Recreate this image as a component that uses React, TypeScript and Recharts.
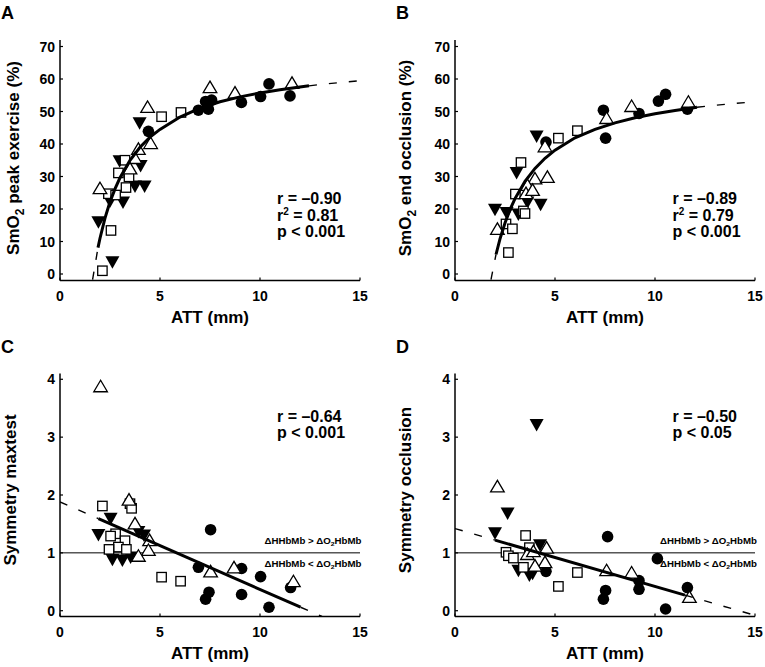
import React from 'react';
import { ComposedChart, Scatter, XAxis, YAxis, ReferenceLine } from 'recharts';

type P = { x: number; y: number };

const FONT = "'Liberation Sans', Arial, Helvetica, sans-serif";

const xTicks = [0, 5, 10, 15];
const smo2Ticks = [0, 10, 20, 30, 40, 50, 60, 70];
const symTicks = [0, 1, 2, 3, 4];

// ---------- Panel A: SmO2 peak exercise ----------
const aCircles: P[] = [
  { x: 7.28, y: 53.1 }, { x: 7.58, y: 53.5 }, { x: 7.42, y: 50.7 }, { x: 6.92, y: 50.4 },
  { x: 4.42, y: 43.9 }, { x: 9.07, y: 52.8 }, { x: 10.03, y: 54.6 }, { x: 10.45, y: 58.5 },
  { x: 11.5, y: 54.8 },
];
const aDowns: P[] = [
  { x: 3.98, y: 46.4 }, { x: 2.98, y: 34.7 }, { x: 4.03, y: 33.2 }, { x: 3.75, y: 26.9 },
  { x: 4.23, y: 26.9 }, { x: 2.5, y: 22.3 }, { x: 3.15, y: 22.0 }, { x: 1.92, y: 15.9 },
  { x: 2.62, y: 3.6 },
];
const aSquares: P[] = [
  { x: 5.08, y: 48.4 }, { x: 6.05, y: 49.7 }, { x: 3.25, y: 35.0 }, { x: 2.92, y: 31.1 },
  { x: 3.45, y: 29.9 }, { x: 3.3, y: 26.6 }, { x: 2.42, y: 24.7 }, { x: 2.78, y: 24.3 },
  { x: 2.55, y: 13.4 }, { x: 2.12, y: 1.0 },
];
const aUps: P[] = [
  { x: 7.5, y: 57.5 }, { x: 4.38, y: 51.4 }, { x: 4.53, y: 40.3 }, { x: 3.92, y: 38.5 },
  { x: 3.75, y: 35.7 }, { x: 3.5, y: 32.5 }, { x: 2.0, y: 26.4 }, { x: 8.75, y: 55.8 },
  { x: 11.6, y: 58.8 },
];
const aFitLow: P[] = [{ x: 1.63, y: -1.7 }, { x: 1.9, y: 8.1 }];
const aFitSolid: P[] = [
  { x: 1.9, y: 8.1 }, { x: 2.0, y: 11.0 }, { x: 2.25, y: 17.2 }, { x: 2.5, y: 22.2 },
  { x: 2.75, y: 26.2 }, { x: 3.0, y: 29.6 }, { x: 3.5, y: 35.0 }, { x: 4.0, y: 39.0 },
  { x: 4.5, y: 42.1 }, { x: 5.0, y: 44.5 }, { x: 6.0, y: 48.3 }, { x: 7.0, y: 51.0 },
  { x: 8.0, y: 53.0 }, { x: 9.0, y: 54.5 }, { x: 10.0, y: 55.7 }, { x: 11.0, y: 56.7 },
  { x: 12.45, y: 57.9 },
];
const aFitHigh: P[] = [{ x: 12.45, y: 57.9 }, { x: 13, y: 58.3 }, { x: 14, y: 58.9 }, { x: 15, y: 59.5 }];

// ---------- Panel B: SmO2 end occlusion ----------
const bCircles: P[] = [
  { x: 7.42, y: 50.4 }, { x: 7.53, y: 41.8 }, { x: 4.55, y: 40.6 }, { x: 9.2, y: 49.4 },
  { x: 10.17, y: 53.2 }, { x: 10.53, y: 55.3 }, { x: 11.62, y: 50.7 },
];
const bDowns: P[] = [
  { x: 4.08, y: 42.3 }, { x: 3.08, y: 31.1 }, { x: 3.62, y: 22.0 }, { x: 4.28, y: 21.3 },
  { x: 2.0, y: 19.8 }, { x: 2.58, y: 18.8 }, { x: 3.17, y: 18.3 },
];
const bSquares: P[] = [
  { x: 6.12, y: 44.1 }, { x: 5.17, y: 41.8 }, { x: 3.3, y: 34.3 }, { x: 3.02, y: 24.6 },
  { x: 3.42, y: 19.4 }, { x: 3.5, y: 18.6 }, { x: 2.55, y: 15.4 }, { x: 2.87, y: 13.9 },
  { x: 2.67, y: 6.6 },
];
const bUps: P[] = [
  { x: 7.58, y: 48.0 }, { x: 4.5, y: 39.3 }, { x: 4.0, y: 29.4 }, { x: 4.62, y: 29.9 },
  { x: 3.62, y: 27.4 }, { x: 3.55, y: 24.9 }, { x: 3.88, y: 25.9 }, { x: 2.12, y: 13.9 },
  { x: 8.83, y: 51.7 }, { x: 11.67, y: 53.0 },
];
const bFitLow: P[] = [{ x: 1.8, y: -1.7 }, { x: 2.05, y: 6.0 }];
const bFitSolid: P[] = [
  { x: 2.05, y: 6.0 }, { x: 2.25, y: 10.8 }, { x: 2.5, y: 15.7 }, { x: 2.75, y: 19.8 },
  { x: 3.0, y: 23.2 }, { x: 3.5, y: 28.5 }, { x: 4.0, y: 32.5 }, { x: 4.5, y: 35.6 },
  { x: 5.0, y: 38.1 }, { x: 6.0, y: 41.9 }, { x: 7.0, y: 44.5 }, { x: 8.0, y: 46.5 },
  { x: 9.0, y: 48.1 }, { x: 10.0, y: 49.3 }, { x: 11.0, y: 50.3 }, { x: 12.1, y: 51.3 },
];
const bFitHigh: P[] = [{ x: 12.1, y: 51.3 }, { x: 13, y: 51.9 }, { x: 14, y: 52.5 }, { x: 15, y: 53.0 }];

// ---------- Panel C: Symmetry maxtest ----------
const cCircles: P[] = [
  { x: 6.92, y: 0.75 }, { x: 7.53, y: 1.4 }, { x: 7.45, y: 0.32 }, { x: 7.28, y: 0.2 },
  { x: 9.08, y: 0.73 }, { x: 10.03, y: 0.59 }, { x: 9.08, y: 0.28 }, { x: 10.45, y: 0.06 },
  { x: 11.53, y: 0.4 },
];
const cDowns: P[] = [
  { x: 2.53, y: 1.59 }, { x: 1.92, y: 1.31 }, { x: 3.92, y: 1.36 }, { x: 4.2, y: 1.3 },
  { x: 2.62, y: 0.88 }, { x: 3.12, y: 0.87 }, { x: 3.53, y: 0.92 },
];
const cSquares: P[] = [
  { x: 2.12, y: 1.81 }, { x: 3.5, y: 1.85 }, { x: 3.58, y: 1.77 }, { x: 2.78, y: 1.33 },
  { x: 2.53, y: 1.29 }, { x: 3.25, y: 1.21 }, { x: 2.92, y: 1.1 }, { x: 3.32, y: 1.06 },
  { x: 2.45, y: 1.06 }, { x: 5.08, y: 0.58 }, { x: 6.03, y: 0.51 },
];
const cUps: P[] = [
  { x: 2.03, y: 3.88 }, { x: 3.45, y: 1.92 }, { x: 3.75, y: 1.51 }, { x: 4.48, y: 1.22 },
  { x: 4.42, y: 1.05 }, { x: 3.92, y: 0.95 }, { x: 7.53, y: 0.68 }, { x: 8.7, y: 0.75 },
  { x: 11.67, y: 0.51 },
];
const cFitLow: P[] = [{ x: 0, y: 1.88 }, { x: 1.92, y: 1.59 }];
const cFitSolid: P[] = [{ x: 1.92, y: 1.59 }, { x: 12.03, y: 0.06 }];
const cFitHigh: P[] = [{ x: 12.03, y: 0.06 }, { x: 13.1, y: -0.1 }];

// ---------- Panel D: Symmetry occlusion ----------
const dCircles: P[] = [
  { x: 4.55, y: 0.68 }, { x: 7.63, y: 1.28 }, { x: 7.53, y: 0.35 }, { x: 7.42, y: 0.2 },
  { x: 9.2, y: 0.52 }, { x: 9.2, y: 0.37 }, { x: 10.12, y: 0.9 }, { x: 10.53, y: 0.03 },
  { x: 11.62, y: 0.4 },
];
const dDowns: P[] = [
  { x: 4.08, y: 3.21 }, { x: 2.63, y: 1.68 }, { x: 2.0, y: 1.34 }, { x: 4.25, y: 1.13 },
  { x: 3.17, y: 0.69 }, { x: 3.72, y: 0.61 }, { x: 3.88, y: 0.64 },
];
const dSquares: P[] = [
  { x: 3.53, y: 1.3 }, { x: 3.72, y: 1.09 }, { x: 2.55, y: 1.01 }, { x: 2.67, y: 0.95 },
  { x: 2.92, y: 0.91 }, { x: 3.42, y: 0.75 }, { x: 5.17, y: 0.42 }, { x: 6.12, y: 0.66 },
];
const dUps: P[] = [
  { x: 2.12, y: 2.15 }, { x: 4.58, y: 1.09 }, { x: 3.62, y: 0.98 }, { x: 3.92, y: 1.03 },
  { x: 4.5, y: 0.84 }, { x: 4.0, y: 0.78 }, { x: 7.58, y: 0.7 }, { x: 8.83, y: 0.66 },
  { x: 11.72, y: 0.24 },
];
const dFitLow: P[] = [{ x: 0, y: 1.42 }, { x: 2.0, y: 1.22 }];
const dFitSolid: P[] = [{ x: 2.0, y: 1.22 }, { x: 11.5, y: 0.27 }];
const dFitHigh: P[] = [{ x: 11.5, y: 0.27 }, { x: 15, y: -0.08 }];

// ---------- shapes ----------
const CircleShape = (p: any) => <circle cx={p.cx} cy={p.cy} r={5.8} fill="#000" />;
const SquareShape = (p: any) => (
  <rect x={p.cx - 4.7} y={p.cy - 4.7} width={9.4} height={9.4} fill="#fff" stroke="#000" strokeWidth={1.3} />
);
const UpTriShape = (p: any) => (
  <polygon
    points={`${p.cx},${p.cy - 6} ${p.cx - 6.8},${p.cy + 5.5} ${p.cx + 6.8},${p.cy + 5.5}`}
    fill="#fff" stroke="#000" strokeWidth={1.3} strokeLinejoin="miter"
  />
);
const DownTriShape = (p: any) => (
  <polygon
    points={`${p.cx - 7},${p.cy - 6} ${p.cx + 7},${p.cy - 6} ${p.cx},${p.cy + 6.5}`}
    fill="#000"
  />
);
const NoShape = () => <g />;

const XTick = (p: any) => (
  <g>
    <line x1={p.x} x2={p.x} y1={p.y} y2={p.y - 3} stroke="#000" strokeWidth={1.2} />
    <text x={p.x} y={p.y + 20} textAnchor="middle" fontSize={14} fontWeight="bold" fontFamily={FONT} fill="#000">
      {p.payload.value}
    </text>
  </g>
);
const YTick = (p: any) => (
  <g>
    <line x1={p.x} x2={p.x + 3} y1={p.y} y2={p.y} stroke="#000" strokeWidth={1.2} />
    <text x={p.x - 5} y={p.y} dy="0.36em" textAnchor="end" fontSize={14} fontWeight="bold" fontFamily={FONT} fill="#000">
      {p.payload.value}
    </text>
  </g>
);

type PanelProps = {
  left: number; top: number; marginTop: number;
  yDomain: [number, number]; yTicks: number[];
  circles: P[]; downs: P[]; squares: P[]; ups: P[];
  fitLow: P[]; fitSolid: P[]; fitHigh: P[];
  refY?: number;
};

const dashed = { stroke: '#000', strokeWidth: 1.4, strokeDasharray: '8 12' };
const solid = { stroke: '#000', strokeWidth: 3 };

function Panel(props: PanelProps) {
  const { left, top, marginTop, yDomain, yTicks, circles, downs, squares, ups, fitLow, fitSolid, fitHigh, refY } = props;
  return (
    <div style={{ position: 'absolute', left, top }}>
      <ComposedChart width={380} height={330} margin={{ top: marginTop, right: 20, left: 0, bottom: 0 }}>
        <XAxis
          type="number" dataKey="x" domain={[0, 15]} ticks={xTicks} interval={0} allowDataOverflow
          tickSize={0} tickMargin={0} tickLine={false} tick={(p: any) => <XTick {...p} />}
          axisLine={{ stroke: '#000', strokeWidth: 1.5 }} height={49.5}
        />
        <YAxis
          type="number" dataKey="y" domain={yDomain} ticks={yTicks} interval={0} allowDataOverflow
          tickSize={0} tickMargin={0} tickLine={false} tick={(p: any) => <YTick {...p} />}
          axisLine={{ stroke: '#000', strokeWidth: 1.5 }} width={60}
        />
        {refY !== undefined && <ReferenceLine y={refY} stroke="#000" strokeWidth={1} />}
        <Scatter data={circles} shape={CircleShape} isAnimationActive={false} />
        <Scatter data={downs} shape={DownTriShape} isAnimationActive={false} />
        <Scatter data={squares} shape={SquareShape} isAnimationActive={false} />
        <Scatter data={ups} shape={UpTriShape} isAnimationActive={false} />
        <Scatter data={fitLow} shape={NoShape} line={dashed} isAnimationActive={false} />
        <Scatter data={fitSolid} shape={NoShape} line={solid} isAnimationActive={false} />
        <Scatter data={fitHigh} shape={NoShape} line={dashed} isAnimationActive={false} />
      </ComposedChart>
    </div>
  );
}

const T = { fontFamily: FONT, fontWeight: 'bold' as const, fill: '#000' };

function Overlay() {
  const stat = (x: number, y0: number, r: string, r2: string | null, p: string) => (
    <g>
      <text x={x} y={y0} fontSize={16} {...T}>r = {r}</text>
      {r2 !== null && (
        <text x={x} y={y0 + 17} fontSize={16} {...T}>
          r<tspan dy={-5.5} fontSize={10}>2</tspan><tspan dy={5.5}> = {r2}</tspan>
        </text>
      )}
      <text x={x} y={r2 !== null ? y0 + 33.5 : y0 + 16.5} fontSize={16} {...T}>p &lt; {p}</text>
    </g>
  );
  const note = (xr: number) => (
    <g>
      <text x={xr} y={544.3} textAnchor="end" fontSize={8.5} textLength={97} lengthAdjust="spacingAndGlyphs" {...T}>
        ΔHHbMb &gt; ΔO<tspan dy={2} fontSize={6}>2</tspan><tspan dy={-2}>HbMb</tspan>
      </text>
      <text x={xr} y={566.7} textAnchor="end" fontSize={8.5} textLength={97} lengthAdjust="spacingAndGlyphs" {...T}>
        ΔHHbMb &lt; ΔO<tspan dy={2} fontSize={6}>2</tspan><tspan dy={-2}>HbMb</tspan>
      </text>
    </g>
  );
  const ytitle = (x: number, y: number, main: string, sub: string | null, rest: string) => (
    <text x={x} y={y} transform={`rotate(-90 ${x} ${y})`} textAnchor="middle" fontSize={17} {...T}>
      {main}
      {sub !== null && <tspan dy={5} fontSize={12}>{sub}</tspan>}
      {sub !== null ? <tspan dy={-5}>{rest}</tspan> : null}
    </text>
  );
  return (
    <svg width={765} height={667} style={{ position: 'absolute', left: 0, top: 0, pointerEvents: 'none' }}>
      <text x={1} y={18.5} fontSize={18} {...T}>A</text>
      <text x={396} y={18.5} fontSize={18} {...T}>B</text>
      <text x={1} y={352.5} fontSize={18} {...T}>C</text>
      <text x={396} y={352.5} fontSize={18} {...T}>D</text>

      {ytitle(18.5, 158, 'SmO', '2', ' peak exercise (%)')}
      {ytitle(411, 158, 'SmO', '2', ' end occlusion (%)')}
      {ytitle(16, 490, 'Symmetry maxtest', null, '')}
      {ytitle(411, 490, 'Symmetry occlusion', null, '')}

      <text x={210} y={322.5} textAnchor="middle" fontSize={17} {...T}>ATT (mm)</text>
      <text x={605} y={322.5} textAnchor="middle" fontSize={17} {...T}>ATT (mm)</text>
      <text x={210} y={658.5} textAnchor="middle" fontSize={17} {...T}>ATT (mm)</text>
      <text x={605} y={658.5} textAnchor="middle" fontSize={17} {...T}>ATT (mm)</text>

      {stat(277, 203.5, '–0.90', '0.81', '0.001')}
      {stat(672.5, 203.5, '–0.89', '0.79', '0.001')}
      {stat(277, 421.5, '–0.64', null, '0.001')}
      {stat(672.5, 421.5, '–0.50', null, '0.05')}

      {note(361.5)}
      {note(757)}
    </svg>
  );
}

export default function App() {
  return (
    <div style={{ position: 'absolute', left: 0, top: 0, width: 765, height: 667, background: '#fff' }}>
      <Panel left={0} top={0} marginTop={40} yDomain={[-2, 72]} yTicks={smo2Ticks}
        circles={aCircles} downs={aDowns} squares={aSquares} ups={aUps}
        fitLow={aFitLow} fitSolid={aFitSolid} fitHigh={aFitHigh} />
      <Panel left={395} top={0} marginTop={40} yDomain={[-2, 72]} yTicks={smo2Ticks}
        circles={bCircles} downs={bDowns} squares={bSquares} ups={bUps}
        fitLow={bFitLow} fitSolid={bFitSolid} fitHigh={bFitHigh} />
      <Panel left={0} top={336} marginTop={37.5} yDomain={[-0.1, 4.1]} yTicks={symTicks}
        circles={cCircles} downs={cDowns} squares={cSquares} ups={cUps}
        fitLow={cFitLow} fitSolid={cFitSolid} fitHigh={cFitHigh} refY={1} />
      <Panel left={395} top={336} marginTop={37.5} yDomain={[-0.1, 4.1]} yTicks={symTicks}
        circles={dCircles} downs={dDowns} squares={dSquares} ups={dUps}
        fitLow={dFitLow} fitSolid={dFitSolid} fitHigh={dFitHigh} refY={1} />
      <Overlay />
    </div>
  );
}
